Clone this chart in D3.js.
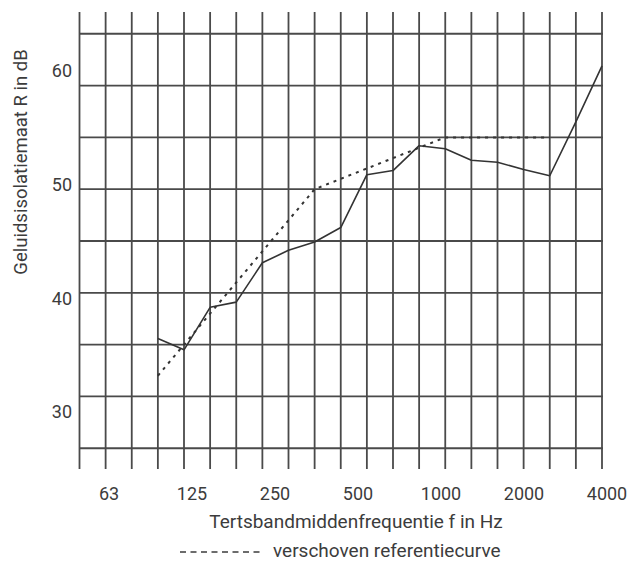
<!DOCTYPE html>
<html>
<head>
<meta charset="utf-8">
<script src="https://cdn.jsdelivr.net/npm/d3@7"></script>
<style>
  html, body { margin: 0; padding: 0; background: #fff; }
  svg { display: block; }
</style>
</head>
<body>
<svg id="chart"></svg>
<script>
// third-octave bands of the grid (one vertical line each)
const bands = ["50", "63", "80", "100", "125", "160", "200", "250", "315", "400",
               "500", "630", "800", "1000", "1250", "1600", "2000", "2500", "3150", "4000", "5000"];
// horizontal grid lines, dB
const gridDb = [25, 30, 35, 40, 45, 50, 55, 60, 65];
// tick labels
const xTickLabels = ["63", "125", "250", "500", "1000", "2000", "4000"];
const yTickLabels = [60, 50, 40, 30];

// measured sound insulation R (solid line)
const measuredBands = ["100", "125", "160", "200", "250", "315", "400", "500", "630", "800",
                       "1000", "1250", "1600", "2000", "2500", "3150", "4000", "5000"];
const measuredR = [35.6, 34.5, 38.6, 39.1, 42.9, 44.1, 44.9, 46.3, 51.4, 51.8,
                   54.2, 53.9, 52.8, 52.6, 51.9, 51.3, 56.5, 61.9];

// shifted reference curve (dashed)
const refBands = ["100", "125", "160", "200", "250", "315", "400", "500", "630", "800",
                  "1000", "1250", "1600", "2000", "2500", "3150"];
const refR = [32, 35, 38, 41, 44, 47, 50, 51, 52, 53, 54, 55, 55, 55, 55, 55];

const width = 643, height = 563;
const font = "Roboto, 'DejaVu Sans', sans-serif";
const textColor = "#3c3c3c";

const svg = d3.select("svg#chart")
    .attr("width", width)
    .attr("height", height)
    .attr("viewBox", [0, 0, width, height]);

const x = d3.scalePoint().domain(bands).range([79.5, 602]);
const y = d3.scaleLinear().domain([23, 67.1]).range([469, 12]);

// label positions are spread evenly, not on the band lines
const xLabel = d3.scalePoint().domain(xTickLabels).range([109, 607]);
const yLabel = d3.scaleLinear().domain([60, 30]).range([71, 412]);

// grid
const grid = svg.append("g").attr("stroke", "#4a4a4a").attr("stroke-width", 1.8);
grid.selectAll("line.v").data(bands).join("line")
    .attr("class", "v")
    .attr("x1", d => x(d)).attr("x2", d => x(d))
    .attr("y1", y(67.1)).attr("y2", y(23));
grid.selectAll("line.h").data(gridDb).join("line")
    .attr("class", "h")
    .attr("x1", x("50")).attr("x2", x("5000") + 1)
    .attr("y1", d => y(d)).attr("y2", d => y(d));

const curve = d3.line().x(d => x(d[0])).y(d => y(d[1]));

// reference curve
svg.append("path")
    .datum(d3.zip(refBands, refR))
    .attr("fill", "none")
    .attr("stroke", "#333")
    .attr("stroke-width", 2)
    .attr("stroke-dasharray", "3,5")
    .attr("d", curve);

// measured curve
svg.append("path")
    .datum(d3.zip(measuredBands, measuredR))
    .attr("fill", "none")
    .attr("stroke", "#333")
    .attr("stroke-width", 1.6)
    .attr("stroke-linejoin", "round")
    .attr("d", curve);

// x tick labels
svg.append("g").selectAll("text").data(xTickLabels).join("text")
    .attr("x", d => xLabel(d))
    .attr("y", 500)
    .attr("text-anchor", "middle")
    .attr("font-family", font)
    .attr("font-size", 18)
    .attr("fill", textColor)
    .text(d => d);

// y tick labels
svg.append("g").selectAll("text").data(yTickLabels).join("text")
    .attr("x", 72)
    .attr("y", d => yLabel(d))
    .attr("dy", "0.35em")
    .attr("text-anchor", "end")
    .attr("font-family", font)
    .attr("font-size", 18)
    .attr("fill", textColor)
    .text(d => d);

// axis titles
svg.append("text")
    .attr("x", 356)
    .attr("y", 528)
    .attr("text-anchor", "middle")
    .attr("font-family", font)
    .attr("font-size", 19)
    .attr("fill", textColor)
    .text("Tertsbandmiddenfrequentie f in Hz");

svg.append("text")
    .attr("transform", "translate(27,162) rotate(-90)")
    .attr("text-anchor", "middle")
    .attr("font-family", font)
    .attr("font-size", 18.5)
    .attr("fill", textColor)
    .text("Geluidsisolatiemaat R in dB");

// legend
svg.append("line")
    .attr("x1", 180).attr("x2", 264)
    .attr("y1", 552).attr("y2", 552)
    .attr("stroke", textColor)
    .attr("stroke-width", 1.3)
    .attr("stroke-dasharray", "6,4.5");
svg.append("text")
    .attr("x", 273)
    .attr("y", 557)
    .attr("font-family", font)
    .attr("font-size", 19)
    .attr("fill", textColor)
    .text("verschoven referentiecurve");
</script>
</body>
</html>
